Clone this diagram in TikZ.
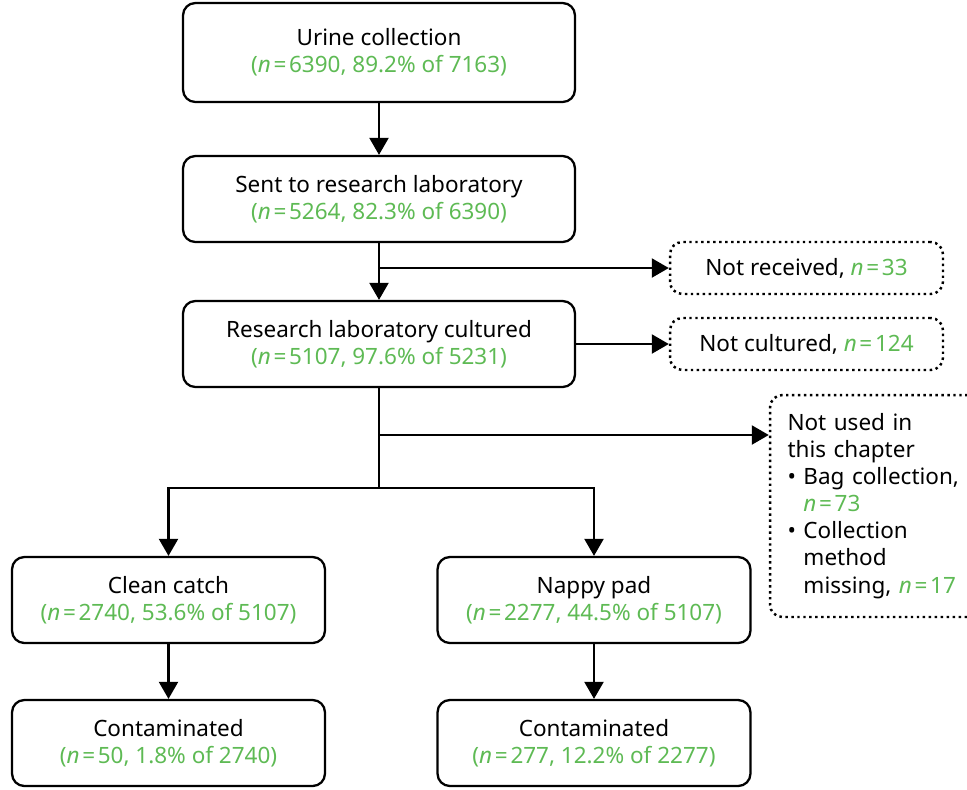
\documentclass[tikz,border=0pt]{standalone}
\usepackage{fontspec}
\setmainfont{Noto Sans}
\usetikzlibrary{arrows.meta,positioning}
\definecolor{countgreen}{RGB}{94,186,84}
\newcommand{\nval}[1]{\textit{n}\hspace{0.12em}=\hspace{0.12em}#1}
\newcommand{\cnt}[1]{{\color{countgreen}#1}}

\begin{document}
\begin{tikzpicture}[
      x=0.02cm, y=-0.02cm,
      font=\fontsize{12.8}{15.4}\selectfont,
      block/.style={draw, line width=1.3pt, rounded corners=7pt, align=center, inner sep=2pt},
      mainbox/.style={block, minimum width=7.84cm, minimum height=1.72cm},
      subbox/.style={block, minimum width=6.26cm, minimum height=1.72cm},
      excluded/.style={draw, dotted, line width=1.4pt, rounded corners=7pt, align=center, inner sep=2pt},
      link/.style={line width=1.25pt},
      arrow/.style={-{Triangle[length=3.4mm,width=3.8mm]}, line width=1.25pt}
    ]
    \clip (0,0) rectangle (967,789);

    \node[mainbox, minimum height=1.98cm] (collect) at (379,52.5) {Urine collection\\ \cnt{(\nval{6390}, 89.2\% of 7163)}};
    \node[mainbox] (sent) at (379,199) {Sent to research laboratory\\ \cnt{(\nval{5264}, 82.3\% of 6390)}};
    \node[mainbox] (cultured) at (379,344) {Research laboratory cultured\\ \cnt{(\nval{5107}, 97.6\% of 5231)}};

    \node[excluded, minimum width=5.46cm, minimum height=1.04cm] (notrec) at (806.5,268) {Not received, \cnt{\nval{33}}};
    \node[excluded, minimum width=5.46cm, minimum height=1.04cm] (notcult) at (806.5,344) {Not cultured, \cnt{\nval{124}}};
    \node[excluded, align=left, text width=3.5cm, minimum width=4.2cm, minimum height=4.44cm] (notused) at (875,506)
      {Not used in\\this chapter\\\textbullet\ Bag collection,\\\phantom{\textbullet\ }\cnt{\nval{73}}\\\textbullet\ Collection\\\phantom{\textbullet\ }method\\\phantom{\textbullet\ }missing, \cnt{\nval{17}}};

    \node[subbox] (clean) at (168.5,600) {Clean catch\\ \cnt{(\nval{2740}, 53.6\% of 5107)}};
    \node[subbox] (nappy) at (594,600) {Nappy pad\\ \cnt{(\nval{2277}, 44.5\% of 5107)}};
    \node[subbox] (cleancont) at (168.5,743) {Contaminated\\ \cnt{(\nval{50}, 1.8\% of 2740)}};
    \node[subbox] (nappycont) at (594,743) {Contaminated\\ \cnt{(\nval{277}, 12.2\% of 2277)}};

    \coordinate (split1) at (379,268);
    \coordinate (split2) at (379,435);
    \coordinate (fork) at (379,488);

    \draw[arrow] (collect) -- (sent);
    \draw[arrow] (sent) -- (cultured);
    \draw[arrow] (split1) -- (notrec.west);
    \draw[arrow] (cultured) -- (notcult);
    \draw[link] (cultured) -- (fork);
    \draw[arrow] (split2) -- (split2 -| notused.west);
    \draw[arrow] (fork) -| (clean);
    \draw[arrow] (fork) -| (nappy);
    \draw[arrow] (clean) -- (cleancont);
    \draw[arrow] (nappy) -- (nappycont);
  \end{tikzpicture}
\end{document}
